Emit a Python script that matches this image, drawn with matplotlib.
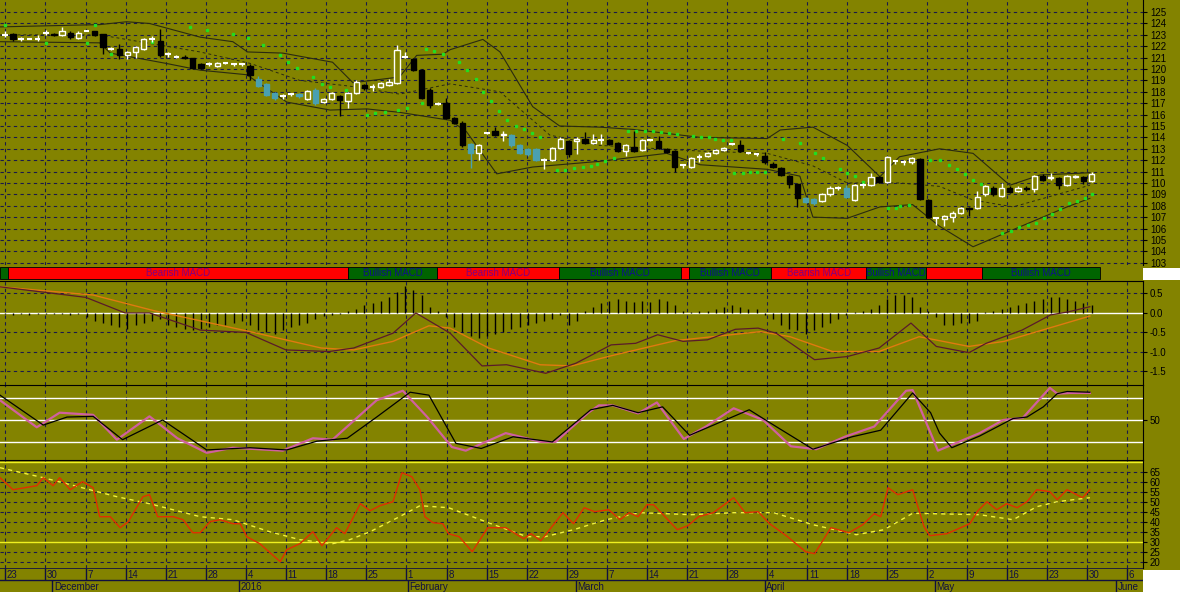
import matplotlib
matplotlib.use("Agg")
import matplotlib.pyplot as plt
import numpy as np
from matplotlib.patches import Rectangle

plt.rcParams['font.family'] = ['Liberation Sans', 'DejaVu Sans']

# ---------------- data ----------------
opens = [123.0,123.1,122.6,122.65,122.65,123.2,123.1,123.0,123.2,122.7,123.35,123.3,123.1,121.8,121.8,121.2,121.5,121.8,122.6,122.5,
         121.3,121.1,121.1,121.0,120.4,120.4,120.3,120.5,120.4,120.4,120.3,119.1,118.7,117.9,117.6,117.8,117.8,117.4,118.2,117.1,
         117.4,117.6,117.2,117.9,118.6,118.4,118.4,118.6,118.8,121.1,120.9,119.9,118.2,116.9,117.0,115.7,115.3,113.4,112.6,114.4,
         114.6,114.2,114.2,113.3,113.0,113.0,112.0,112.0,113.1,113.7,113.7,113.9,113.5,113.8,113.8,113.5,112.8,113.2,112.9,113.8,
         113.7,113.0,112.8,111.6,111.4,112.3,112.4,112.6,112.9,113.4,113.3,112.6,112.5,112.4,111.7,111.3,110.6,109.9,108.7,108.6,
         108.4,109.0,109.6,109.6,108.5,109.8,109.8,110.5,110.1,111.9,111.8,111.8,112.1,108.5,106.9,106.8,107.0,107.4,107.8,107.8,
         109.0,109.6,108.9,109.6,109.3,109.6,109.5,110.6,110.4,110.4,109.8,110.5,110.5,110.2]
closes = [123.0,122.6,122.6,122.65,122.65,123.2,123.0,123.3,122.8,123.2,123.35,123.0,121.9,121.8,121.2,121.5,121.9,122.6,122.6,121.2,
          121.3,121.1,121.0,120.1,120.1,120.4,120.5,120.5,120.4,120.4,119.5,118.5,117.7,117.5,117.6,117.8,117.6,118.1,117.0,117.4,
          117.9,117.3,117.9,118.9,118.3,118.4,118.8,118.9,121.7,121.1,119.9,117.5,116.8,116.9,115.7,115.3,113.3,112.6,113.3,114.4,
          114.2,114.3,113.3,112.6,112.5,112.0,112.0,113.1,113.9,112.5,113.9,113.5,113.8,113.8,113.4,112.8,113.3,112.8,113.8,113.8,
          113.1,112.7,111.4,111.6,112.2,112.3,112.6,112.9,113.1,113.4,112.8,112.6,112.5,111.8,111.4,110.7,109.9,108.7,108.3,108.2,
          109.0,109.6,109.6,108.8,109.8,109.8,110.5,110.1,112.3,111.9,111.8,112.2,108.6,107.0,106.9,107.1,107.4,107.8,107.7,108.8,
          109.7,109.0,109.6,109.2,109.6,109.5,110.6,110.3,110.5,109.8,110.6,110.6,110.2,110.8]
highs = [123.3,123.2,122.8,122.7,123.0,123.4,123.2,123.7,123.3,123.3,123.4,123.3,123.1,121.9,122.2,121.6,122.0,122.7,122.9,123.5,
         121.5,121.2,121.2,121.0,120.5,120.6,120.6,120.6,120.5,120.5,120.4,119.4,118.8,118.0,117.8,117.9,117.9,118.2,118.3,117.5,
         118.0,117.7,118.0,119.0,118.7,118.7,118.9,119.1,122.1,121.5,121.0,120.0,118.3,117.1,117.5,115.8,115.4,113.5,113.4,114.5,
         114.9,114.6,114.3,113.4,113.1,113.1,112.2,113.2,114.0,113.8,114.0,114.5,114.3,114.3,113.9,113.6,113.4,114.6,113.9,113.9,
         114.1,113.1,112.9,111.7,112.3,112.5,112.7,113.0,113.2,113.5,113.8,112.7,112.6,112.7,111.8,111.4,110.7,110.0,108.8,108.7,
         109.1,109.7,109.7,109.8,109.9,110.0,110.9,110.6,112.4,112.0,112.0,112.3,112.2,108.6,107.0,107.2,107.5,107.9,107.9,109.3,
         109.8,109.7,110.0,109.7,109.7,109.7,110.7,110.8,110.9,110.5,110.7,110.7,110.6,111.0]
lows = [122.8,122.5,122.5,122.6,122.5,123.0,122.9,122.9,122.6,122.6,123.3,122.9,121.3,121.7,120.9,120.9,121.0,121.7,122.4,121.1,
        121.1,121.0,120.9,120.0,120.0,120.3,120.2,120.4,120.3,120.3,119.0,118.4,117.6,117.3,117.4,117.6,117.5,117.3,116.8,117.0,
        117.3,115.9,116.6,117.8,118.2,118.1,118.3,118.5,118.7,121.0,119.8,117.4,116.6,116.8,115.6,115.2,113.2,111.3,112.0,114.3,
        114.1,113.7,113.2,112.5,112.4,111.9,111.2,111.9,113.0,112.3,112.5,113.4,113.4,113.4,113.3,112.7,112.4,112.7,112.8,113.7,
        113.0,112.6,111.0,111.3,111.3,111.8,112.3,112.5,112.8,113.3,112.7,112.5,112.4,111.7,111.3,110.6,109.6,107.9,108.2,108.1,
        108.3,108.9,109.4,108.7,108.4,109.6,109.7,110.0,110.0,111.7,111.6,111.7,108.5,106.9,106.3,106.2,106.6,107.3,107.1,107.7,
        108.9,108.9,108.8,109.1,109.2,109.3,109.2,110.2,110.3,109.5,109.7,110.4,109.9,110.1]
teal_days = [31,32,33,36,38,57,62,63,64,65,98,99,103]

# Bollinger bands (day index, price)
bb_up_x = [-0.6,11.6,14.9,17.7,23.9,27.9,29.7,34.0,40.1,42.6,48.3,50.4,53.6,54.5,58.5,60.6,64.6,67.9,72.8,76.9,85.1,93.3,94.9,98.9,103.1,107.1,109.5,114.4,118.5,123.0,126.7,132.8]
bb_up_y = [123.7,123.9,124.15,124.0,122.8,122.4,121.5,121.4,120.6,118.8,119.3,121.2,121.3,121.7,122.6,121.5,116.7,115.0,114.9,114.7,114.0,113.9,114.65,114.9,113.3,110.55,112.3,113.0,112.6,109.8,110.7,110.9]
bb_lo_x = [-0.6,11.6,12.9,19.7,23.9,29.6,34.5,39.8,44.3,48.3,54.5,56.5,60.2,64.6,72.8,81.0,85.1,93.3,97.3,98.9,103.1,107.1,111.1,114.4,118.5,123.4,130.0,132.8]
bb_lo_y = [122.4,122.3,121.4,120.5,119.9,119.5,117.1,116.4,116.5,116.2,115.5,114.5,110.8,111.4,111.9,112.6,111.6,111.2,110.6,107.0,106.9,107.9,108.1,106.2,104.4,105.9,107.9,108.65]
bb_mid_x = [-0.6,11.6,23.9,30.0,36.1,42.2,48.3,54.5,60.6,66.7,72.8,85.1,93.3,98.9,103.1,109.5,114.4,118.5,123.4,132.8]
bb_mid_y = [123.0,123.0,121.5,120.5,119.0,118.5,117.8,118.7,118.0,114.2,113.3,112.8,112.6,111.5,110.0,110.0,109.7,108.5,107.9,109.8]

# Green dotted stop line, segments of (day index, price)
stop_segments = [
    ([0,11],[123.9,123.9]),
    ([5,10],[122.3,122.3]),
    ([13,17,18],[121.3,122.2,122.4]),
    ([22.6,24.7,27.9,29.8,31.6,33.7,34.7,35.7,37.7,38.8,39.8,41.8],[123.65,123.4,123.07,122.7,122.1,121.2,120.6,120.05,119.3,118.7,118.4,118.2]),
    ([44.3,45.3,46.5,48.1,49.2,51.0],[116.0,116.1,116.2,116.4,116.6,117.0]),
    ([51.6,52.5,53.6,55.6,56.5,57.6,58.5,59.5,60.5,61.5,62.5,63.5,64.5,65.5],[121.75,121.6,121.3,120.6,119.9,119.1,118.0,117.2,116.3,115.5,115.0,114.7,114.4,114.0]),
    ([67.6,68.6,69.6,70.7,71.7,72.5,73.5,74.5],[111.1,111.1,111.3,111.4,111.5,111.7,111.9,112.2]),
    ([76.3,77.3,78.3,79.3,80.3,81.3,82.3,84.2,85.2,86.2,86.9,87.9,88.9],[114.6,114.6,114.6,114.6,114.5,114.4,114.3,114.1,114.0,114.0,113.9,113.8,113.8]),
    ([89.3,90.3,91.2,92.1,93.0],[110.9,110.9,111.0,111.0,111.0]),
    ([95.2,97.3,99.1,100.1,102.2,103.1,104.0,105.0],[113.9,113.5,112.6,112.2,111.2,110.9,110.6,110.1]),
    ([108.1,109.1,109.6,110.6],[107.8,107.8,108.0,108.1]),
    ([112.0,113.2,114.4,115.5,116.5,117.5,118.5,119.5,120.5],[111.9,112.0,112.0,111.6,111.2,110.8,110.3,109.9,109.4]),
    ([122.1,123.1,124.1,125.2,126.2,127.2,128.2,129.2,130.2,131.2,132.2,133.1],[105.6,105.8,106.1,106.3,106.5,106.9,107.3,107.7,108.2,108.4,108.7,109.0]),
]

# MACD strip: segment boundaries and states
strip_edges = [-0.6,0.4,42.0,52.9,67.8,82.7,83.7,93.8,105.4,112.7,119.6,134.0]
strip_bull = [True,False,True,False,True,False,True,False,True,False,True]
strip_label = [False,True,True,True,True,False,True,True,True,False,True]

# MACD lines
macd_x = [-0.6,9.9,14.7,17.7,23.9,29.5,34.4,39.7,42.7,47.5,50.3,54.5,58.4,61.4,66.2,69.9,74.2,77.2,79.9,83.0,86.0,89.4,92.2,94.4,99.1,103.1,107.0,110.9,114.0,118.0,120.1,124.5,128.0,130.2,132.8]
macd_y = [0.67,0.40,0.0,0.0,-0.44,-0.5,-0.95,-0.99,-0.9,-0.52,0.0,-0.52,-1.36,-1.33,-1.55,-1.29,-0.82,-0.78,-0.56,-0.73,-0.69,-0.42,-0.39,-0.52,-1.2,-1.12,-0.9,-0.26,-0.86,-1.02,-0.78,-0.44,-0.05,0.03,0.16]
sig_x = [-0.6,10.8,18.2,30.0,38.7,42.7,47.5,51.9,54.5,59.2,65.5,69.4,74.2,82.1,92.5,96.1,101.3,107.0,111.9,118.0,122.3,132.8]
sig_y = [0.67,0.46,0.06,-0.48,-0.9,-0.95,-0.73,-0.33,-0.39,-0.9,-1.33,-1.36,-1.1,-0.71,-0.48,-0.61,-0.99,-0.99,-0.61,-0.86,-0.73,-0.08]
hist = [-0.03,-0.05,-0.04,-0.05,-0.03, -0.03,-0.04,-0.03,-0.05,-0.02, -0.1,-0.2,-0.25,-0.3,-0.35, -0.4,-0.3,-0.25,-0.2,-0.15,
        -0.3,-0.35,-0.4,-0.45,-0.4, -0.35,-0.3,-0.3,-0.25,-0.2, -0.3,-0.45,-0.5,-0.55,-0.45, -0.35,-0.3,-0.25,-0.15,-0.08,
        -0.05,-0.02,0.05,0.1,0.2, 0.25,0.3,0.4,0.55,0.7, 0.6,0.45,0.15,0.05,-0.1, -0.35,-0.5,-0.6,-0.65,-0.6,
        -0.55,-0.5,-0.4,-0.35,-0.3, -0.25,-0.2,-0.15,-0.05,-0.3, -0.2,0.05,0.15,0.25,0.3, 0.35,0.3,0.28,0.3,0.28,
        0.35,0.3,0.2,0.05,0.02, 0.05,0.05,0.1,0.15,0.2, 0.15,0.1,0.1,-0.05,-0.15, -0.3,-0.4,-0.45,-0.55,-0.45,
        -0.35,-0.25,-0.15,-0.05,0.02, 0.05,0.1,0.2,0.35,0.45, 0.45,0.4,0.15,0.05,-0.1, -0.3,-0.3,-0.25,-0.25,-0.2,
        0.03,0.05,0.1,0.15,0.2, 0.25,0.3,0.35,0.4,0.4, 0.35,0.3,0.25,0.2]

# Stochastic
stk_x = [-0.6,3.9,6.7,10.8,13.7,17.7,21.1,24.7,27.9,34.0,37.7,40.1,45.5,48.7,51.7,54.7,56.4,61.3,65.6,67.4,71.4,72.7,74.4,77.5,79.8,83.1,85.8,89.2,92.8,96.2,99.3,102.8,106.4,110.3,111.1,114.2,119.3,122.2,124.6,127.9,128.8,130.4,132.8]
stk_y = [77,40,60,57,23,55,25,5,12,8,25,23,77,90,54,13,8,32,20,20,60,70,70,59,74,24,41,66,50,14,10,27,41,90,91,8,32,50,53,94,86,87,87]
std_x = [-0.6,4.7,7.6,10.8,14.4,19.3,24.7,30.0,34.5,38.2,41.9,45.5,49.6,51.9,55.2,58.3,62.2,67.0,71.7,74.4,77.5,80.5,83.8,91.1,94.1,98.9,103.7,107.2,111.1,113.3,114.4,115.9,119.3,123.4,125.1,127.1,128.8,130.0,132.8]
std_y = [84,43,54,55,23,50,9,12,9,21,25,54,88,84,18,11,27,20,64,70,60,68,29,64,43,10,27,36,87,60,32,12,28,52,54,68,86,89,88]

# RSI and its moving average
rsi_x = [-0.6,1.0,3.9,4.7,5.9,6.7,8.0,9.5,10.8,11.6,12.9,14.1,15.1,16.9,17.7,18.7,20.6,21.8,23.0,23.9,25.1,26.3,27.9,28.8,29.6,31.2,33.7,34.5,36.1,37.7,38.8,40.6,41.6,43.5,44.7,45.9,47.5,48.6,49.8,50.8,51.4,52.4,53.6,
         54.3,55.6,57.2,59.1,61.3,63.5,64.4,65.6,68.3,69.6,70.9,72.2,73.9,75.3,76.4,77.5,78.6,79.4,82.3,83.6,84.9,86.7,89.2,90.6,92.2,93.6,95.8,98.0,99.1,101.1,103.3,105.0,106.4,107.2,108.1,109.3,111.1,112.5,113.2,115.3,118.1,119.1,120.2,121.4,122.6,123.9,125.1,126.3,127.9,128.8,130.0,131.9,132.8]
rsi_y = [62,56,58,62,58,62,56,60,57,42.5,42.5,37,40,52.5,53.5,42.5,42.5,41,34.5,34.5,40,41,39,39,32.5,29,20,26,29,35,28,37,34,49,45.5,48,50,64.5,62.5,56,42.5,39.5,39,
         34,32.5,25,37,37,31.5,34,30.5,44.5,39,47,45,46,41,44.5,42.5,48.5,48.5,36,38,42.5,44.5,52,44.5,45,39,32.5,25,24,37,34.5,38.5,44,42.5,57,53.5,56,37.5,33,34,39,45.5,50,46,49,47,50,56,55,51,56,52,56]
rma_x = [-0.6,4.7,13.7,17.7,23.9,27.9,32.4,36.1,40.1,42.2,44.7,48.3,50.8,54.3,59.5,63.9,66.1,69.6,73.6,77.8,84.0,89.2,94.1,98.9,104.2,107.6,111.1,119.3,123.4,126.3,128.8,132.8]
rma_y = [67,62,52.5,49,42.5,41,35,31,29,31,35,42.5,48,47,39,32.5,32.5,36,41,44.5,43.5,44.5,44.5,38.5,33.5,36,44.2,43.5,41,47.5,50,52]

# Date axis
tick_pos = [0,4.9,9.9,14.8,19.7,24.6,29.5,34.4,39.3,44.2,49.1,54.1,59.0,63.9,68.8,73.7,78.6,83.5,88.4,93.3,98.2,103.1,108.0,112.9,117.7,122.6,127.5,132.4,137.3]
tick_lab = ['23','30','7','14','21','28','4','11','18','25','1','8','15','22','29','7','14','21','28','4','11','18','25','2','9','16','23','30','6']
month_pos = [5.8,28.6,49.3,69.9,93.0,113.8,136.0]
month_lab = ['December','2016','February','March','April','May','June']

# ---------------- drawing ----------------
BG = '#838300'
GRID = '#1a1a4a'
XL = (-0.6, 139.3)
W = 1143/1180

fig = plt.figure(figsize=(11.8, 5.92), dpi=100, facecolor=BG)

def mk(top, bot):
    ax = fig.add_axes([0, 1-bot/592, W, (bot-top)/592])
    ax.set_facecolor(BG)
    ax.set_xlim(*XL)
    ax.set_xticks([])
    ax.yaxis.tick_right()
    ax.tick_params(axis='y', labelsize=7, length=3, pad=2, colors='black', direction='out')
    for s in ['top', 'bottom', 'left']:
        ax.spines[s].set_visible(False)
    ax.spines['right'].set_color('black')
    for t in tick_pos:
        ax.axvline(t, color=GRID, lw=0.8, ls=(0, (3, 3)), zorder=0)
    return ax

# price
ax = mk(0, 265)
ax.set_ylim(102.8, 126.06)
ax.set_yticks(range(103, 126))
for v in range(103, 126):
    ax.axhline(v, color=GRID, lw=0.8, ls=(0, (3, 3)), zorder=0)
ax.plot(bb_up_x, bb_up_y, color='#2a2a10', lw=0.8)
ax.plot(bb_lo_x, bb_lo_y, color='#2a2a10', lw=0.8)
ax.plot(bb_mid_x, bb_mid_y, color='#2a2a10', lw=0.7, ls=(0, (3, 3)))
for sx, sy in stop_segments:
    ax.plot(sx, sy, ls='none', marker='s', ms=1.8, color='#22dd22')
days = np.arange(len(opens))
o = np.array(opens); c = np.array(closes); h = np.array(highs); l = np.array(lows)
for i in days:
    if i in teal_days:
        col, fc = '#4aa0b0', '#4aa0b0'
    elif c[i] >= o[i]:
        col, fc = 'white', BG
    else:
        col, fc = 'black', 'black'
    ax.vlines(i, l[i], h[i], color=col, lw=1.0, zorder=2)
    if abs(c[i]-o[i]) < 0.08:
        ax.hlines(c[i], i-0.35, i+0.35, color=col, lw=1.5, zorder=3)
    else:
        ax.add_patch(Rectangle((i-0.32, min(o[i], c[i])), 0.64, abs(c[i]-o[i]),
                               facecolor=fc, edgecolor=col, lw=1.0, zorder=3))

# strip
axs = fig.add_axes([0, 1-281/592, W, 16/592])
axs.set_facecolor(BG)
axs.set_xlim(*XL); axs.set_ylim(0, 1)
axs.axis('off')
for k in range(len(strip_bull)):
    a, b = strip_edges[k], strip_edges[k+1]
    fc = '#006400' if strip_bull[k] else '#ff0000'
    axs.add_patch(Rectangle((a, 0.1), b-a, 0.8, facecolor=fc, edgecolor='black', lw=0.6))
    if strip_label[k]:
        axs.text((a+b)/2, 0.5, 'Bullish MACD' if strip_bull[k] else 'Bearish MACD',
                 ha='center', va='center', fontsize=7,
                 color='#10108a' if strip_bull[k] else '#800080')

# MACD
axm = mk(281, 385)
axm.set_ylim(-1.85, 0.82)
axm.set_yticks([0.5, 0.0, -0.5, -1.0, -1.5])
axm.set_yticklabels(['0.5', '0.0', '-0.5', '-1.0', '-1.5'])
for v in [0.5, -0.5, -1.0, -1.5]:
    axm.axhline(v, color=GRID, lw=0.8, ls=(0, (3, 3)), zorder=0)
axm.axhline(0, color='white', lw=1.0, zorder=1)
axm.vlines(days, 0, hist[:len(days)], color='black', lw=1.0, zorder=2)
axm.plot(sig_x, sig_y, color='#e07a10', lw=1.0, zorder=3)
axm.plot(macd_x, macd_y, color='#5a1a2a', lw=0.9, zorder=4)
axm.spines['top'].set_visible(True); axm.spines['top'].set_color('black')

# Stochastic
axk = mk(385, 460)
axk.set_ylim(-4.8, 97.9)
axk.set_yticks([50])
for v in [80, 50, 20]:
    axk.axhline(v, color='white', lw=1.0, zorder=1)
axk.plot(stk_x, stk_y, color='#d060a0', lw=1.6, zorder=2)
axk.plot(std_x, std_y, color='black', lw=0.9, zorder=3)
axk.spines['top'].set_visible(True); axk.spines['top'].set_color('black')

# RSI
axr = mk(460, 568)
axr.set_ylim(16.85, 70.85)
axr.set_yticks(range(20, 70, 5))
for v in range(20, 70, 5):
    if v != 30:
        axr.axhline(v, color=GRID, lw=0.8, ls=(0, (3, 3)), zorder=0)
axr.axhline(30, color='#f0f020', lw=1.0, zorder=1)
axr.axhline(70, color='#f0f020', lw=1.0, zorder=1)
axr.plot(rma_x, rma_y, color='#f0f040', lw=1.0, ls=(0, (3, 3)), zorder=2)
axr.plot(rsi_x, rsi_y, color='#e03000', lw=1.0, zorder=3)
axr.spines['top'].set_visible(True); axr.spines['top'].set_color('black')

# date axis
axd = fig.add_axes([0, 0, W, 24/592])
axd.set_facecolor(BG)
axd.set_xlim(*XL); axd.set_ylim(0, 2)
axd.axis('off')
axd.axhline(2, color='#101040', lw=1.2)
axd.axhline(1, color='#101040', lw=1.0)
for t, lab in zip(tick_pos, tick_lab):
    axd.vlines(t, 1, 2, color='#101040', lw=1.0)
    axd.text(t+0.2, 1.45, lab, fontsize=7, ha='left', va='center', color='#101040')
for t, lab in zip(month_pos, month_lab):
    axd.vlines(t, 0, 1, color='#101040', lw=1.0)
    axd.text(t+0.2, 0.45, lab, fontsize=7, ha='left', va='center', color='#101040')

# white patches at right
fig.patches.append(Rectangle((W, 1-280/592), 1-W, 12/592, transform=fig.transFigure, facecolor='white', edgecolor='none'))
fig.patches.append(Rectangle((W, 0), 1-W, 22/592, transform=fig.transFigure, facecolor='white', edgecolor='none'))

fig.savefig('out.png', dpi=100, facecolor=BG)
